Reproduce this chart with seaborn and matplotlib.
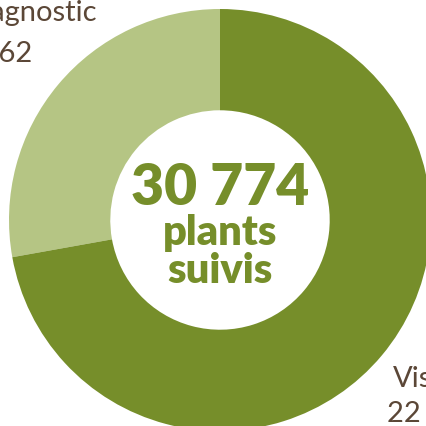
import matplotlib
matplotlib.use("Agg")
import matplotlib.pyplot as plt
import seaborn as sns

# Plants suivis par type d'observation
categories = ["Diagnostic", "Visuel"]
values = [8562, 22212]
value_labels = ["8 562", "22 212"]
total_label = "30 774"

sns.set_style("white")
plt.rcParams['font.family'] = ['Lato', 'DejaVu Sans']

dark_green = "#768e2a"
light_green = "#b5c584"
brown = "#5b4737"

fig = plt.figure(figsize=(4.26, 4.26), dpi=100)
# donut centre at (220, 220) px, radius 211 px; the picture is a crop of a larger graphic
r = 211 / 426
ax = fig.add_axes([220 / 426 - r, (426 - 220) / 426 - r, 2 * r, 2 * r])

ax.pie(values, colors=[light_green, dark_green], startangle=90, counterclock=True,
       radius=1, wedgeprops=dict(width=0.48, edgecolor="none"))

# pie() resets the limits, so set them afterwards
ax.set_xlim(-1, 1)
ax.set_ylim(-1, 1)
ax.set_aspect("equal")
ax.axis("off")

# centre text
ax.text(0, 0.071, total_label, ha="center", va="baseline", fontsize=41,
        fontweight="heavy", color=dark_green)
ax.text(0, -0.118, "plants", ha="center", va="baseline", fontsize=30,
        fontweight="heavy", color=dark_green)
ax.text(0, -0.297, "suivis", ha="center", va="baseline", fontsize=30,
        fontweight="heavy", color=dark_green)

# outer labels (partly outside the figure)
def px(x, y):
    return (x - 220) / 211, (220 - y) / 211

ax.text(*px(97, 21), categories[0], ha="right", va="baseline", fontsize=21,
        color=brown, clip_on=False)
ax.text(*px(32, 62), value_labels[0], ha="right", va="baseline", fontsize=21,
        color=brown, clip_on=False)
ax.text(*px(393, 387), categories[1], ha="left", va="baseline", fontsize=21,
        color=brown, clip_on=False)
ax.text(*px(387, 422), value_labels[1], ha="left", va="baseline", fontsize=21,
        color=brown, clip_on=False)

fig.savefig("out.png", dpi=100)
plt.close(fig)
